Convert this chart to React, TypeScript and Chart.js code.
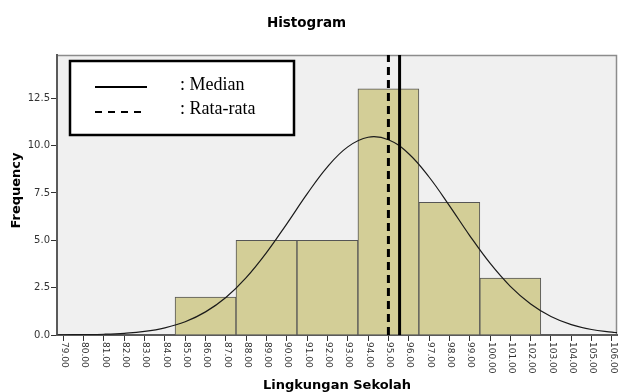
import React, { useEffect, useRef } from 'react';
import { Chart, registerables } from 'chart.js';

Chart.register(...registerables);

// ---- Data ----
const binCenters = [86, 89, 92, 95, 98, 101];
const frequencies = [2, 5, 5, 13, 7, 3];

const curveX = [78.7, 79, 80, 81, 82, 83, 84, 85, 86, 87, 88, 89, 90, 91, 92, 93, 94, 95, 96, 97, 98, 99, 100, 101, 102, 103, 104, 105, 106, 106.25];
const curveY = [0.0, 0.01, 0.02, 0.04, 0.09, 0.19, 0.38, 0.7, 1.22, 1.98, 3.03, 4.35, 5.87, 7.45, 8.88, 9.93, 10.44, 10.31, 9.57, 8.34, 6.83, 5.25, 3.79, 2.57, 1.64, 0.98, 0.55, 0.29, 0.15, 0.12];

const meanValue = 95.0;
const medianValue = 95.55;

const xTickValues = [79, 80, 81, 82, 83, 84, 85, 86, 87, 88, 89, 90, 91, 92, 93, 94, 95, 96, 97, 98, 99, 100, 101, 102, 103, 104, 105, 106];
const yTickValues = [0, 2.5, 5, 7.5, 10, 12.5];

const xMin = 78.69;
const xMax = 106.25;
const yMin = 0;
const yMax = 14.78;

const titleText = 'Histogram';
const xTitle = 'Lingkungan Sekolah';
const yTitle = 'Frequency';
const legendLabels = [': Median', ': Rata-rata'];

const decorPlugin = {
  id: 'decor',
  beforeDraw(chart: any) {
    const { ctx, chartArea: a } = chart;
    ctx.save();
    ctx.fillStyle = '#f0f0f0';
    ctx.fillRect(a.left, a.top, a.right - a.left, a.bottom - a.top);
    ctx.strokeStyle = '#8c8c8c';
    ctx.lineWidth = 1.5;
    ctx.beginPath();
    ctx.moveTo(a.left, a.top + 0.5);
    ctx.lineTo(a.right - 0.5, a.top + 0.5);
    ctx.lineTo(a.right - 0.5, a.bottom);
    ctx.stroke();
    ctx.restore();
  },
  afterDraw(chart: any) {
    const { ctx, chartArea: a } = chart;
    const xs = chart.scales.x;
    ctx.save();
    // x tick labels, rotated clockwise
    ctx.font = '9px "DejaVu Sans"';
    ctx.fillStyle = '#333333';
    ctx.textAlign = 'left';
    ctx.textBaseline = 'middle';
    xs.ticks.forEach((t: any) => {
      const px = xs.getPixelForValue(t.value);
      ctx.save();
      ctx.translate(px + 1, a.bottom + 7);
      ctx.rotate(Math.PI / 2);
      ctx.fillText(Number(t.value).toFixed(2), 0, 0);
      ctx.restore();
    });

    // Titles
    ctx.fillStyle = '#000000';
    ctx.textBaseline = 'alphabetic';
    ctx.textAlign = 'center';
    ctx.font = 'bold 13.5px "DejaVu Sans"';
    ctx.fillText(titleText, 306.5, 26.5);
    ctx.font = 'bold 13px "DejaVu Sans"';
    ctx.fillText(xTitle, (a.left + a.right) / 2, 388.5);
    ctx.save();
    ctx.translate(19.5, 190.5);
    ctx.rotate(-Math.PI / 2);
    ctx.fillText(yTitle, 0, 0);
    ctx.restore();

    // Legend box
    const bx = a.left + 13;
    const by = a.top + 6;
    const bw = 224;
    const bh = 74;
    ctx.fillStyle = '#ffffff';
    ctx.fillRect(bx, by, bw, bh);
    ctx.strokeStyle = '#000000';
    ctx.lineWidth = 2.5;
    ctx.strokeRect(bx, by, bw, bh);

    ctx.lineWidth = 2;
    ctx.beginPath();
    ctx.moveTo(bx + 25, by + 26);
    ctx.lineTo(bx + 77, by + 26);
    ctx.stroke();
    ctx.setLineDash([7, 6]);
    ctx.beginPath();
    ctx.moveTo(bx + 25, by + 51);
    ctx.lineTo(bx + 75, by + 51);
    ctx.stroke();
    ctx.setLineDash([]);

    ctx.fillStyle = '#000000';
    ctx.textAlign = 'left';
    ctx.font = '18px "Liberation Serif"';
    ctx.fillText(legendLabels[0], bx + 110, by + 29);
    ctx.fillText(legendLabels[1], bx + 110, by + 53);
    ctx.restore();
  },
};

export default function App() {
  const canvasRef = useRef<HTMLCanvasElement | null>(null);

  useEffect(() => {
    if (!canvasRef.current) return;
    const chart = new Chart(canvasRef.current, {
      type: 'bar',
      data: {
        datasets: [
          {
            type: 'line',
            label: 'Median',
            data: [
              { x: medianValue, y: yMin },
              { x: medianValue, y: yMax },
            ],
            borderColor: '#000000',
            borderWidth: 3,
            pointRadius: 0,
            fill: false,
            order: 1,
          } as any,
          {
            type: 'line',
            label: 'Rata-rata',
            data: [
              { x: meanValue, y: yMin },
              { x: meanValue, y: yMax },
            ],
            borderColor: '#000000',
            borderWidth: 3,
            borderDash: [8, 5],
            pointRadius: 0,
            fill: false,
            order: 2,
          } as any,
          {
            type: 'line',
            label: 'Normal',
            data: curveX.map((x, i) => ({ x, y: curveY[i] })),
            borderColor: '#1a1a1a',
            borderWidth: 1.2,
            pointRadius: 0,
            tension: 0.4,
            fill: false,
            order: 3,
          } as any,
          {
            type: 'bar',
            label: 'Frequency',
            data: binCenters.map((x, i) => ({ x, y: frequencies[i] })),
            backgroundColor: '#d3ce97',
            borderColor: '#555555',
            borderWidth: 1,
            barThickness: 'flex',
            categoryPercentage: 1,
            barPercentage: 1,
            order: 4,
          } as any,
        ],
      },
      options: {
        animation: false,
        responsive: false,
        devicePixelRatio: 1,
        layout: { padding: { top: 55, right: 1, left: 0, bottom: 0 } },
        plugins: {
          legend: { display: false },
          tooltip: { enabled: false },
          title: { display: false },
        },
        scales: {
          x: {
            type: 'linear',
            min: xMin,
            max: xMax,
            offset: false,
            afterBuildTicks: (s: any) => {
              s.ticks = xTickValues.map((v) => ({ value: v }));
            },
            afterFit: (s: any) => {
              s.height = 57;
            },
            ticks: { display: false },
            grid: {
              display: true,
              offset: false,
              drawOnChartArea: false,
              drawTicks: true,
              tickLength: 6,
              color: '#333333',
              lineWidth: 1,
            },
            border: { display: true, color: '#5a5a5a', width: 2 },
          },
          y: {
            type: 'linear',
            min: yMin,
            max: yMax,
            afterBuildTicks: (s: any) => {
              s.ticks = yTickValues.map((v) => ({ value: v }));
            },
            afterFit: (s: any) => {
              s.width = 57;
            },
            ticks: {
              padding: 1,
              color: '#333333',
              font: { family: '"DejaVu Sans"', size: 10 },
              callback: (v: any) => Number(v).toFixed(1),
            },
            grid: {
              display: true,
              drawOnChartArea: false,
              drawTicks: true,
              tickLength: 6,
              color: '#333333',
              lineWidth: 1,
            },
            border: { display: true, color: '#5a5a5a', width: 2 },
          },
        },
      } as any,
      plugins: [decorPlugin],
    });
    return () => chart.destroy();
  }, []);

  return (
    <div style={{ position: 'fixed', left: 0, top: 0, width: 618, height: 392, background: '#ffffff' }}>
      <canvas ref={canvasRef} width={618} height={392} style={{ display: 'block' }} />
    </div>
  );
}
